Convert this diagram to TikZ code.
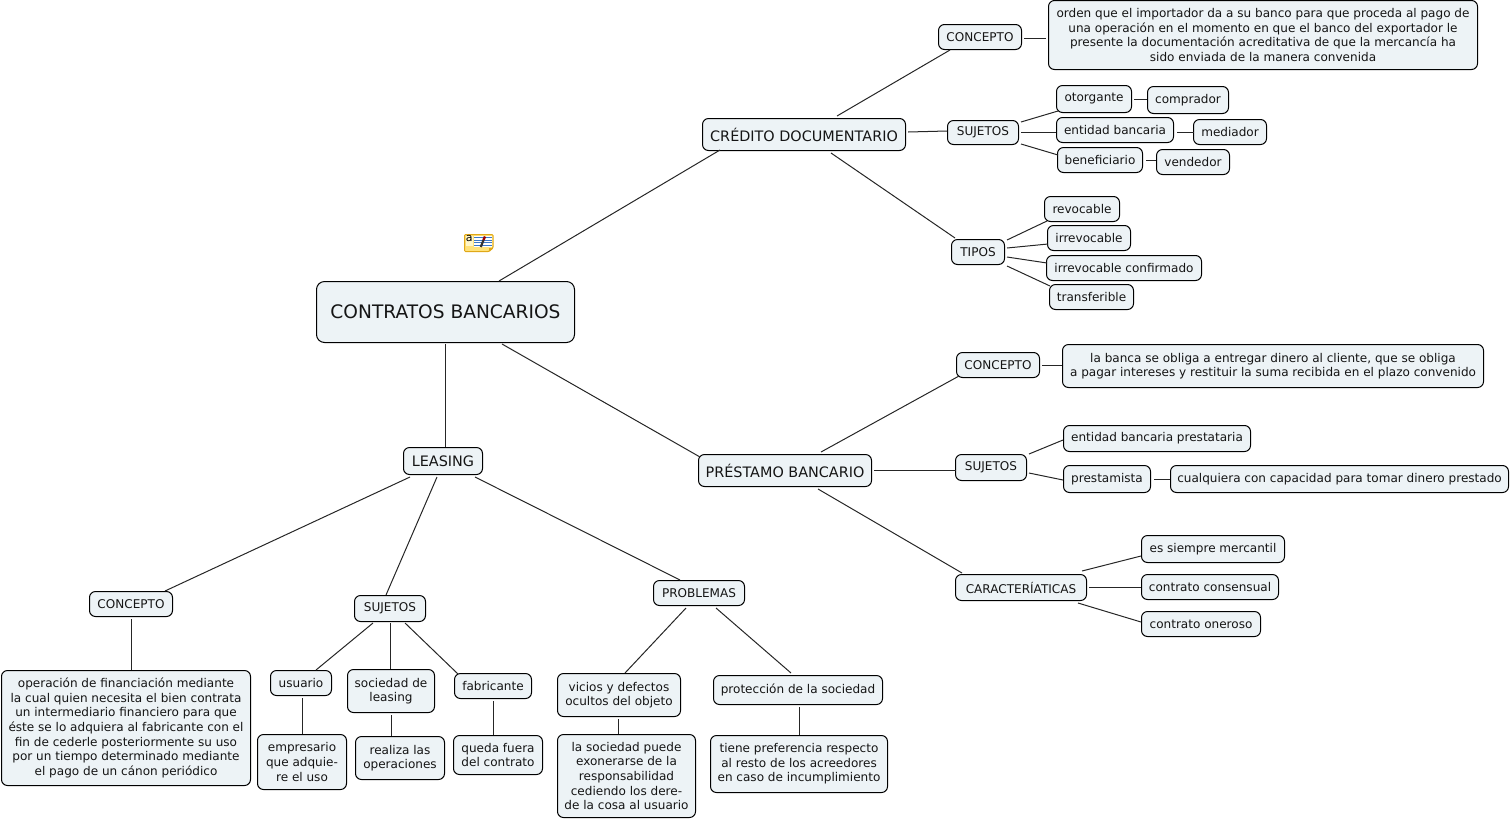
\documentclass[tikz,border=0pt]{standalone}
\usepackage{fontspec}
\setmainfont{DejaVu Sans}
\definecolor{nodefill}{HTML}{EDF3F6}
\definecolor{inktext}{HTML}{151515}
\definecolor{noteyel}{HTML}{FFE27A}
\definecolor{noteedge}{HTML}{E0A818}
\definecolor{notepanel}{HTML}{FFF6C8}
\definecolor{noteline}{HTML}{3C78C8}
\tikzset{
  bx/.style={draw=black,line width=1pt,fill=nodefill,rounded corners=6pt,inner sep=0pt,align=center,text=inktext,font=\fontsize{12.05}{14.6}\selectfont},
  bxb/.style={bx,font=\fontsize{14.4}{16}\selectfont},
  bxr/.style={bx,rounded corners=8pt,font=\fontsize{18.6}{20}\selectfont},
  conn/.style={draw=black!85,line width=1pt}
}
% name, x0, y0, x1, y1, text  (pixel coordinates, y down)
\newcommand{\nd}[7][bx]{%
  \pgfmathparse{(#3+#5)/2}\expandafter\xdef\csname cx#2\endcsname{\pgfmathresult}%
  \pgfmathparse{(#4+#6)/2}\expandafter\xdef\csname cy#2\endcsname{\pgfmathresult}%
  \pgfmathparse{#5-#3-1}\edef\nw{\pgfmathresult pt}%
  \pgfmathparse{#6-#4-1}\edef\nh{\pgfmathresult pt}%
  \node[#1,minimum width=\nw,minimum height=\nh] (#2) at (\csname cx#2\endcsname,\csname cy#2\endcsname) {#7};%
}
% connector from node to node, its ends given as pixel positions near each node
\newcommand{\cn}[6]{%
  \draw[conn] ([shift={({#2-\csname cx#1\endcsname},{#3-\csname cy#1\endcsname})}]#1.center) --
              ([shift={({#5-\csname cx#4\endcsname},{#6-\csname cy#4\endcsname})}]#4.center);%
}
\begin{document}
\begin{tikzpicture}[x=1pt,y=-1pt]
\useasboundingbox (0,0) rectangle (1511,820);
\nd[bxr]{root}{316}{281}{575}{343}{CONTRATOS BANCARIOS}
\nd[bxb]{cred}{702}{118}{906}{151}{CRÉDITO DOCUMENTARIO}
\nd{ccon}{938}{24}{1022}{50}{CONCEPTO}
\nd{ctxt}{1048}{0}{1478}{70}{orden que el importador da a su banco para que proceda al pago de\\una operación en el momento en que el banco del exportador le\\presente la documentación acreditativa de que la mercancía ha\\sido enviada de la manera convenida}
\nd{csuj}{947}{120}{1019}{145}{SUJETOS}
\nd{otor}{1056}{85}{1132}{113}{otorgante}
\nd{comp}{1147}{86}{1229}{114}{comprador}
\nd{enti}{1056}{117}{1174}{143}{entidad bancaria}
\nd{medi}{1193}{119}{1267}{145}{mediador}
\nd{bene}{1057}{147}{1143}{173}{beneficiario}
\nd{vend}{1156}{149}{1230}{175}{vendedor}
\nd{tipo}{951}{239}{1005}{265}{TIPOS}
\nd{revo}{1044}{196}{1120}{222}{revocable}
\nd{irre}{1047}{225}{1131}{251}{irrevocable}
\nd{conf}{1046}{255}{1202}{281}{irrevocable confirmado}
\nd{tran}{1049}{284}{1134}{310}{transferible}
\nd[bxb]{pres}{698}{454}{872}{487}{PRÉSTAMO BANCARIO}
\nd{pcon}{956}{352}{1040}{378}{CONCEPTO}
\nd{ptxt}{1062}{344}{1484}{388}{la banca se obliga a entregar dinero al cliente, que se obliga\\a pagar intereses y restituir la suma recibida en el plazo convenido}
\nd{psuj}{955}{454}{1027}{481}{SUJETOS}
\nd{pent}{1063}{425}{1251}{452}{entidad bancaria prestataria}
\nd{ppre}{1063}{465}{1151}{493}{prestamista}
\nd{pcua}{1170}{465}{1509}{493}{cualquiera con capacidad para tomar dinero prestado}
\nd{cara}{955}{574}{1087}{601}{CARACTERÍATICAS}
\nd{mer}{1141}{535}{1285}{563}{es siempre mercantil}
\nd{cons}{1141}{574}{1279}{600}{contrato consensual}
\nd{oner}{1141}{611}{1261}{637}{contrato oneroso}
\nd[bxb]{leas}{403}{447}{483}{475}{LEASING}
\nd{lcon}{89}{591}{173}{617}{CONCEPTO}
\nd{ltxt}{1}{670}{251}{786}{operación de financiación mediante\\la cual quien necesita el bien contrata\\un intermediario financiero para que\\éste se lo adquiera al fabricante con el\\fin de cederle posteriormente su uso\\por un tiempo determinado mediante\\el pago de un cánon periódico}
\nd{lsuj}{354}{595}{426}{622}{SUJETOS}
\nd{usua}{270}{670}{332}{696}{usuario}
\nd{empr}{257}{734}{347}{790}{empresario\\que adquie-\\re el uso}
\nd{soci}{347}{669}{435}{713}{sociedad de\\leasing}
\nd{real}{355}{736}{445}{780}{realiza las\\operaciones}
\nd{fabr}{454}{673}{532}{699}{fabricante}
\nd{qued}{453}{735}{543}{775}{queda fuera\\del contrato}
\nd{prob}{653}{580}{745}{606}{PROBLEMAS}
\nd{vici}{557}{673}{681}{717}{vicios y defectos\\ocultos del objeto}
\nd{sopu}{557}{734}{696}{818}{la sociedad puede\\exonerarse de la\\responsabilidad\\cediendo los dere-\\de la cosa al usuario}
\nd{prot}{713}{675}{883}{705}{protección de la sociedad}
\nd{tien}{710}{735}{888}{793}{tiene preferencia respecto\\al resto de los acreedores\\en caso de incumplimiento}

\cn{root}{499}{281}{cred}{720}{150}
\cn{root}{502}{344}{pres}{700}{457}
\cn{root}{445}{344}{leas}{445}{447}
\cn{cred}{837}{116}{ccon}{950}{50}
\cn{ccon}{1024}{38}{ctxt}{1046}{38}
\cn{cred}{908}{132}{csuj}{947}{131}
\cn{csuj}{1021}{122}{otor}{1058}{111}
\cn{csuj}{1021}{132}{enti}{1056}{132}
\cn{csuj}{1021}{144}{bene}{1058}{155}
\cn{otor}{1134}{99}{comp}{1147}{99}
\cn{enti}{1177}{132}{medi}{1194}{132}
\cn{bene}{1146}{160}{vend}{1156}{160}
\cn{cred}{831}{153}{tipo}{955}{238}
\cn{tipo}{1007}{240}{revo}{1047}{221}
\cn{tipo}{1007}{248}{irre}{1048}{244}
\cn{tipo}{1007}{257}{conf}{1047}{263}
\cn{tipo}{1007}{266}{tran}{1050}{286}
\cn{pres}{821}{452}{pcon}{959}{376}
\cn{pcon}{1042}{365}{ptxt}{1062}{365}
\cn{pres}{874}{470}{psuj}{956}{470}
\cn{psuj}{1029}{454}{pent}{1063}{440}
\cn{psuj}{1029}{473}{ppre}{1063}{480}
\cn{ppre}{1154}{479}{pcua}{1170}{479}
\cn{pres}{818}{489}{cara}{962}{573}
\cn{cara}{1082}{571}{mer}{1141}{556}
\cn{cara}{1089}{587}{cons}{1141}{587}
\cn{cara}{1078}{603}{oner}{1141}{622}
\cn{leas}{410}{477}{lcon}{165}{591}
\cn{leas}{437}{477}{lsuj}{386}{595}
\cn{leas}{475}{477}{prob}{680}{580}
\cn{lcon}{131}{619}{ltxt}{131}{670}
\cn{lsuj}{373}{623}{usua}{316}{670}
\cn{lsuj}{390}{623}{soci}{390}{669}
\cn{lsuj}{405}{623}{fabr}{458}{674}
\cn{usua}{302}{698}{empr}{302}{734}
\cn{soci}{391}{715}{real}{391}{736}
\cn{fabr}{493}{701}{qued}{493}{735}
\cn{prob}{686}{608}{vici}{625}{673}
\cn{prob}{716}{608}{prot}{791}{673}
\cn{vici}{618}{719}{sopu}{618}{734}
\cn{prot}{799}{707}{tien}{799}{735}

% note icon
\fill[noteyel,draw=noteedge,line width=1pt,rounded corners=1pt] (464.5,234.5) -- (493,234.5) -- (493,248) -- (489,251.5) -- (464.5,251.5) -- cycle;
\fill[notepanel] (466,236) rectangle (473,246);
\node[inner sep=0pt,text=black,font=\fontsize{11}{11}\selectfont] (iconletter) at (469.3,238.6) {a};
\fill[white] (474,236) rectangle (492,247);
\foreach \yy in {237.5,240,242.5,245} \draw[noteline,line width=.8pt] (474,\yy) -- (492,\yy);
\draw[black!80,line width=2.2pt] (480.8,247) -- (483.5,240);
\draw[red!60!black,line width=2.4pt] (483.5,240) -- (485,236.5);
\fill[noteedge] (489,251.5) -- (489,248) -- (493,248) -- cycle;
\end{tikzpicture}
\end{document}
